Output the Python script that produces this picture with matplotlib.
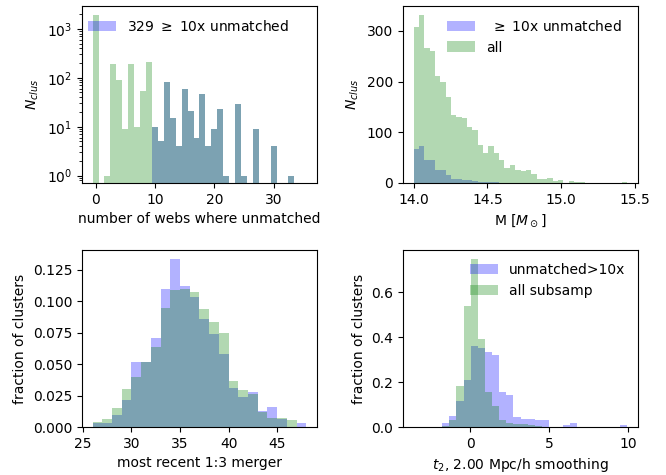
import numpy as np
import matplotlib.pyplot as plt

# number of webs in which a cluster is unmatched (integer values 0..35)
n_webs = np.arange(36)
webs_counts_all = [1900, 0, 1, 190, 90, 9, 190, 10, 53, 205,
                   10, 5, 80, 15, 4, 60, 21, 6, 47, 4,
                   9, 23, 1, 0, 29, 1, 0, 9, 0, 0,
                   4, 0, 0, 1, 0, 0]
webs_counts_unm = np.where(n_webs >= 10, webs_counts_all, 0)

# cluster mass histogram, 40 bins between 14.0 and 15.45
mass_edges = np.linspace(14.0, 15.45, 41)
mass_counts_all = [308, 332, 267, 260, 210, 200, 169, 133, 131, 129,
                   110, 104, 74, 60, 72, 60, 46, 30, 35, 26,
                   24, 26, 18, 8, 8, 10, 4, 6, 0, 4,
                   2, 2, 0, 0, 0, 0, 0, 0, 0, 1]
mass_counts_unm = [66, 72, 46, 45, 25, 25, 15, 7, 7, 6,
                   6, 4, 1, 2, 1, 1, 0, 0, 0, 0,
                   0, 0, 0, 0, 0, 0, 0, 0, 0, 0,
                   0, 0, 0, 0, 0, 0, 0, 0, 0, 0]

# most recent 1:3 merger, fraction per unit bin 26..48
merger_edges = np.arange(26, 49)
merger_frac_unm = [0.003, 0.003, 0.0096, 0.0215, 0.052, 0.052, 0.0705, 0.1096,
                   0.134, 0.1125, 0.1037, 0.0857, 0.0737, 0.0585, 0.0311, 0.024,
                   0.0279, 0.0128, 0.016, 0.0067, 0.0, 0.0032]
merger_frac_all = [0.004, 0.0064, 0.015, 0.030, 0.040, 0.052, 0.064, 0.0944,
                   0.1088, 0.1096, 0.1077, 0.0936, 0.0833, 0.075, 0.0367, 0.0295,
                   0.0266, 0.0122, 0.0072, 0.0072, 0.0059, 0.0]

# t2 at 2 Mpc/h smoothing, 30 bins
t2_edges = np.linspace(-3.58, 9.97, 31)
t2_frac_unm = [0, 0, 0, 0, 0.018, 0.049, 0.118, 0.21, 0.362, 0.353,
               0.335, 0.323, 0.156, 0.143, 0.045, 0.036, 0.034, 0.031, 0.031, 0,
               0, 0.007, 0.016, 0, 0, 0, 0, 0, 0, 0.007]
t2_frac_all = [0.0008, 0.0008, 0.0008, 0.0008, 0.003, 0.031, 0.182, 0.541, 0.75, 0.393,
               0.158, 0.094, 0.031, 0.019, 0.015, 0.012, 0.007, 0.003, 0.002, 0,
               0, 0, 0, 0, 0, 0, 0, 0, 0, 0]

fig, axes = plt.subplots(2, 2, figsize=(6.66, 4.75), dpi=100)
fig.subplots_adjust(left=0.123, right=0.958, top=0.987, bottom=0.101,
                    wspace=0.366, hspace=0.381)

# top left: number of webs where unmatched
ax = axes[0, 0]
webs_edges = np.arange(-0.5, 36, 1)
ax.hist(n_webs, bins=webs_edges, weights=webs_counts_unm, color='b', alpha=0.3,
        log=True, label=r'329 $\geq$ 10x unmatched')
ax.hist(n_webs, bins=webs_edges, weights=webs_counts_all, color='g', alpha=0.3, log=True)
ax.set_ylim(0.71, 2900)
ax.set_xlabel('number of webs where unmatched')
ax.set_ylabel(r'$N_{clus}$')
ax.legend(loc='upper left', frameon=False, handleheight=0.8,
          bbox_to_anchor=(-0.028, 1))

# top right: mass
ax = axes[0, 1]
mass_centers = 0.5 * (mass_edges[1:] + mass_edges[:-1])
ax.hist(mass_centers, bins=mass_edges, weights=mass_counts_unm, color='b', alpha=0.3,
        label=r' $\geq$ 10x unmatched')
ax.hist(mass_centers, bins=mass_edges, weights=mass_counts_all, color='g', alpha=0.3,
        label='all')
ax.set_xlabel(r'M [$M_\odot$]')
ax.set_ylabel(r'$N_{clus}$')
ax.legend(loc='upper right', frameon=False, handleheight=0.8,
          bbox_to_anchor=(0.983, 1))

# bottom left: most recent merger
ax = axes[1, 0]
merger_centers = merger_edges[:-1] + 0.5
ax.hist(merger_centers, bins=merger_edges, weights=merger_frac_unm, color='b', alpha=0.3)
ax.hist(merger_centers, bins=merger_edges, weights=merger_frac_all, color='g', alpha=0.3)
ax.set_xlabel('most recent 1:3 merger')
ax.set_ylabel('fraction of clusters')

# bottom right: t2
ax = axes[1, 1]
t2_centers = 0.5 * (t2_edges[1:] + t2_edges[:-1])
ax.hist(t2_centers, bins=t2_edges, weights=t2_frac_unm, color='b', alpha=0.3,
        label='unmatched>10x')
ax.hist(t2_centers, bins=t2_edges, weights=t2_frac_all, color='g', alpha=0.3,
        label='all subsamp')
ax.set_xlabel(r'$t_2$, 2.00 Mpc/h smoothing')
ax.set_ylabel('fraction of clusters')
ax.legend(loc='upper right', frameon=False, handleheight=0.8)

fig.savefig('out.png', dpi=100)
